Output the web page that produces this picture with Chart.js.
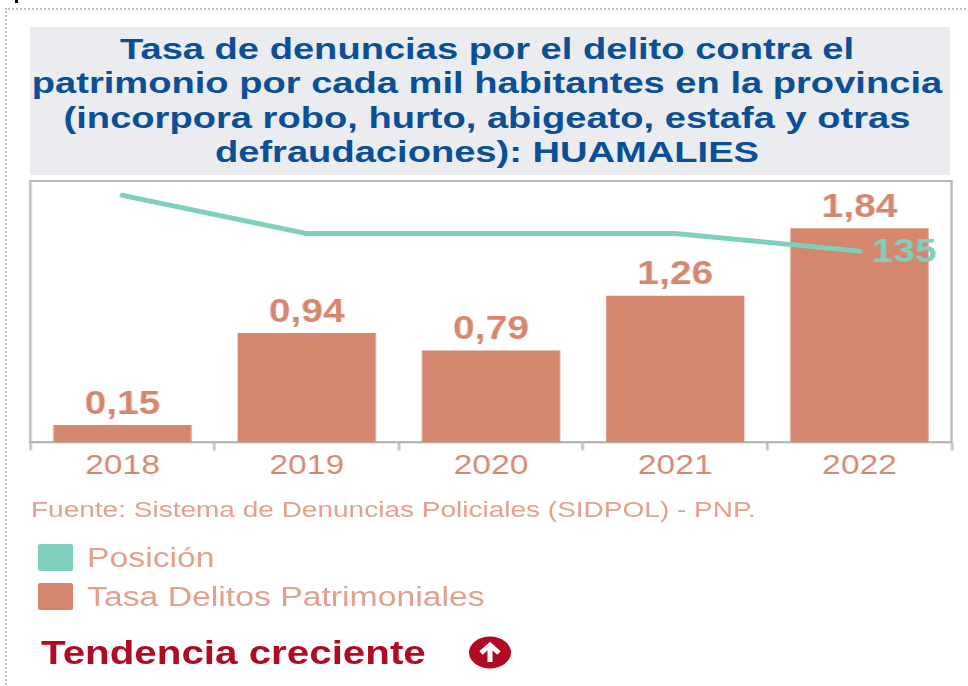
<!DOCTYPE html>
<html><head><meta charset="utf-8">
<script src="https://cdn.jsdelivr.net/npm/chart.js@4"></script>
<style>
html,body{margin:0;padding:0;background:#fff;overflow:hidden}
#page{position:absolute;left:0;top:0;width:968px;height:686px;overflow:hidden;font-family:"Liberation Sans",Arial,sans-serif}
#frame{position:absolute;left:5px;top:8px;width:1000px;height:720px;border:2px dotted #c4c4c4;box-sizing:border-box}
#mark{position:absolute;left:15px;top:0;width:3px;height:3px;background:#000}
.st{position:absolute;transform-origin:0 0;white-space:nowrap}
#band{position:absolute;left:30px;top:27px;width:920px;height:148px;background:#ebecef}
#title{left:3px;top:31.5px;width:762.2px;transform:scaleX(1.27);text-align:center;font-weight:bold;font-size:30px;line-height:34.5px;color:#0b4f97}
#stretch{position:absolute;left:0;top:0;width:806.67px;height:686px;transform:scaleX(1.2);transform-origin:0 0}
#source{left:31px;top:497px;font-size:22px;color:#e3a18d;transform:scaleX(1.273)}
#legend{position:absolute;left:38px;top:544px}
.row{position:absolute;left:0;white-space:nowrap;height:28px}
.sw{position:absolute;left:0;top:0;width:35px;height:27px;border-radius:2px}
.lb{position:absolute;left:49px;top:-1px;font-size:27px;line-height:30px;color:#e3a18d;transform:scaleX(1.25);transform-origin:0 0}
#trend{left:41px;top:634px;font-size:33px;font-weight:bold;color:#b00b22;transform:scaleX(1.222)}
#arrow{position:absolute;left:469px;top:636px}
</style></head><body>
<div id="page">
<div id="frame"></div><div id="mark"></div>
<div id="band"></div>
<div id="title" class="st"></div>
<div id="stretch"><canvas id="c" width="807" height="482"></canvas></div>
<div id="source" class="st"></div>
<div id="legend"></div>
<div id="trend" class="st"></div>
<svg id="arrow" width="44" height="34" viewBox="0 0 44 34"><ellipse cx="21" cy="16.5" rx="21" ry="16" fill="#b00b22"/><path d="M21 26V10M12 17l9-8 9 8" fill="none" stroke="#fff" stroke-width="5"/></svg>
</div>
<script>
const titleLines = ["Tasa de denuncias por el delito contra el","patrimonio por cada mil habitantes en la provincia","(incorpora robo, hurto, abigeato, estafa y otras","defraudaciones): HUAMALIES"];
const sourceText = "Fuente: Sistema de Denuncias Policiales (SIDPOL) - PNP.";
const trendText = "Tendencia creciente";
const categories = ["2018","2019","2020","2021","2022"];
const rateValues = [0.15,0.94,0.79,1.26,1.84];
const rateLabels = ["0,15","0,94","0,79","1,26","1,84"];
const positionValues = [100,124,124,124,135];
const positionLabels = [null,null,null,null,"135"];
const GREEN="#7fcfbd", SALMON="#d5866e", GREY="#b8b8b8";

document.getElementById('title').innerHTML = titleLines.join('<br>');
document.getElementById('source').textContent = sourceText;
document.getElementById('trend').textContent = trendText;

const frameBox = {
  id:'frameBox',
  beforeDatasetsDraw(ch){const a=ch.chartArea,x=ch.ctx;x.save();x.strokeStyle=GREY;x.lineWidth=2;x.strokeRect(a.left,a.top,a.right-a.left,a.bottom-a.top);x.restore();}
};
const valueLabels = {
  id:'valueLabels',
  afterDatasetsDraw(ch){
    const x=ch.ctx;x.save();x.textAlign='center';x.font='bold 32.5px "Liberation Sans"';
    x.fillStyle=SALMON;x.textBaseline='bottom';
    ch.getDatasetMeta(1).data.forEach((b,i)=>x.fillText(rateLabels[i],b.x,b.y-4));
    x.fillStyle=GREEN;x.textBaseline='middle';x.textAlign='left';
    ch.getDatasetMeta(0).data.forEach((p,i)=>{if(positionLabels[i])x.fillText(positionLabels[i],p.x+10,p.y+2);});
    x.restore();
  }
};
const chart = new Chart(document.getElementById('c'),{
  data:{labels:categories,datasets:[
    {type:'line',label:'Posición',data:positionValues,yAxisID:'y2',borderColor:GREEN,backgroundColor:GREEN,borderWidth:5,pointRadius:0,tension:0,borderCapStyle:'round',borderJoinStyle:'round',order:0},
    {type:'bar',label:'Tasa Delitos Patrimoniales',data:rateValues,yAxisID:'y',backgroundColor:SALMON,barPercentage:0.75,categoryPercentage:1,order:1}
  ]},
  options:{
    responsive:false,maintainAspectRatio:false,animation:false,
    layout:{padding:{left:25.3,right:14,top:181,bottom:0}},
    plugins:{legend:{display:false},title:{display:false},tooltip:{enabled:false}},
    scales:{
      x:{offset:true,border:{color:GREY,width:2},
         grid:{drawOnChartArea:false,tickLength:8,tickWidth:2,tickColor:c=>c.index===categories.length?'rgba(0,0,0,0)':GREY},
         ticks:{color:SALMON,font:{size:28,family:'"Liberation Sans"'},padding:-1,maxRotation:0}},
      y:{display:false,min:0,max:2.245},
      y2:{display:false,reverse:true,min:91,max:255}
    }
  },
  plugins:[frameBox,valueLabels]
});

const lg=document.getElementById('legend');
chart.data.datasets.forEach((d,i)=>{
  const r=document.createElement('div');r.className='row';r.style.top=(i*39)+'px';
  const s=document.createElement('div');s.className='sw';s.style.background=d.backgroundColor;
  const t=document.createElement('div');t.className='lb';t.textContent=d.label;
  r.append(s,t);lg.append(r);
});
</script>
</body></html>
